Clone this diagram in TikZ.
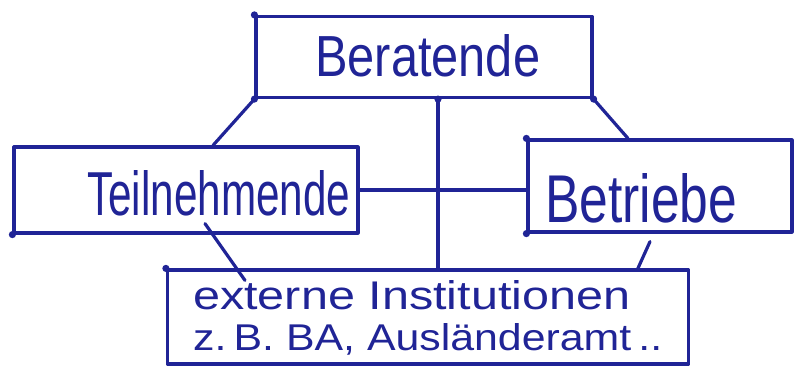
\documentclass[tikz,border=0pt]{standalone}
\usepackage{graphicx}
\usepackage{fontspec}
\setmainfont{Liberation Sans}
\usetikzlibrary{calc}
\definecolor{ink}{RGB}{32,36,150}
\tikzset{
  box/.style={draw=ink, line width=3.2pt, line join=round, inner sep=0pt},
  wire/.style={draw=ink, line width=3.2pt, line cap=round},
  lbl/.style={text=ink, inner sep=0pt, anchor=base west},
  pen/.style={fill=ink}
}
\begin{document}
\begin{tikzpicture}[x=1pt,y=-1pt]
\useasboundingbox (0,0) rectangle (795,369);
% boxes
\node[box, minimum width=336pt, minimum height=81pt] (ber) at (424,57) {};
\node[box, minimum width=344pt, minimum height=86pt] (tn) at (186,190) {};
\node[box, minimum width=264pt, minimum height=92pt] (bt) at (660,186) {};
\node[box, minimum width=521pt, minimum height=94pt] (ext) at (428,317) {};
% texts
\node[lbl] (tber) at (315,77) {\resizebox{225pt}{42pt}{Beratende}};
\node[lbl] (ttn) at (87,215) {\resizebox{263pt}{45pt}{Teilnehmende}};
\node[lbl] (tbt) at (545,222) {\resizebox{192pt}{49pt}{Betriebe}};
\node[lbl] (text1) at (193,309) {\resizebox{437pt}{29pt}{externe Institutionen}};
\node[lbl] (text2) at (193,350) {\resizebox{469pt}{27pt}{z.\,B. BA, Ausländeramt\,..}};
% connectors
\draw[wire] (ber.south west) -- ([xshift=27pt]tn.north);
\draw[wire] (ber.south east) -- ([xshift=-32pt]bt.north);
\coordinate (v) at ([xshift=14pt]ber.south);
\draw[wire] (v) -- (v |- ext.north);
\draw[wire] (tn.east) -- (tn.east -| bt.west);
\draw[wire] ([xshift=19pt,yshift=11pt]tn.south) -- ([xshift=-183pt,yshift=-12pt]ext.north);
\draw[wire] ([xshift=-10pt,yshift=-8pt]bt.south) -- ([xshift=209pt,yshift=-2pt]ext.north);
% pen dots
\foreach \p in {ber.north west, ber.south west, ber.south east, v, bt.north west, bt.south west, tn.south west, ext.north west}
  \fill[pen] (\p) circle (3.6pt);
\end{tikzpicture}
\end{document}
